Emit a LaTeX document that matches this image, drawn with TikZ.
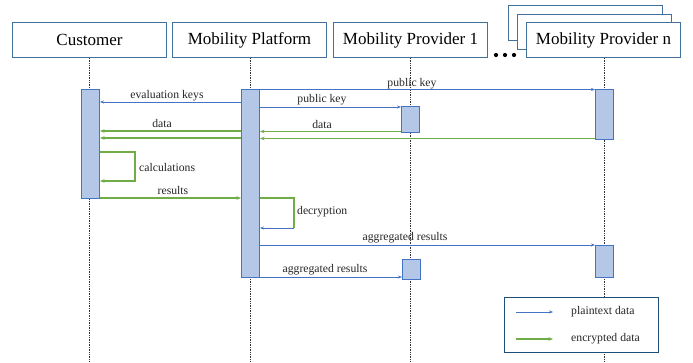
\documentclass[tikz,border=0pt]{standalone}
\usepackage{fontspec}
\setmainfont{Liberation Serif}
\usetikzlibrary{arrows.meta,calc}
\definecolor{hdr}{HTML}{41719C}
\definecolor{bl}{HTML}{4472C4}
\definecolor{barfill}{HTML}{B4C7E7}
\definecolor{gr}{HTML}{70AD47}
\definecolor{lgd}{HTML}{1F4E79}
\tikzset{
  hbox/.style={draw=hdr,line width=1pt,fill=white,minimum width=154pt,minimum height=35pt,inner sep=0pt,anchor=north west,font=\fontsize{17}{17}\selectfont},
  actbar/.style={draw=bl,line width=1pt,fill=barfill,minimum width=18pt,inner sep=0pt,anchor=north west},
  life/.style={densely dotted,line width=0.7pt,black!80},
  plain/.style={draw=bl,line width=0.8pt,-{Stealth[length=4pt,width=3pt]}},
  enc/.style={draw=gr,line width=1.6pt,-{Stealth[length=4.5pt,width=3.5pt]}},
  lbl/.style={font=\fontsize{11.7}{12}\selectfont,inner sep=0pt,text=black!85},
}
\begin{document}
\begin{tikzpicture}[x=1pt,y=-1pt]
\useasboundingbox (0,0) rectangle (693,362);
% header boxes
\node[hbox] (cu) at (12,22) {Customer};
\node[hbox] (mp) at (172,22) {Mobility Platform};
\node[hbox] (p1) at (333,22) {Mobility Provider 1};
\node[hbox] (pnb) at (508,5) {};
\node[hbox] (pnm) at (517,13.5) {};
\node[hbox] (pn) at (526,22) {Mobility Provider n};
\foreach \i/\x in {1/496,2/505,3/514}{\fill (\x,55) circle (2.1pt) coordinate (dot\i);}
% lifelines
\coordinate (cuE) at (89,362);
\coordinate (mpE) at (250,362);
\coordinate (p1E) at (410,362);
\coordinate (pnE) at (604,362);
\draw[life] (cu.south -| cuE) -- (cuE);
\draw[life] (mp.south -| mpE) -- (mpE);
\draw[life] (p1.south -| p1E) -- (p1E);
\draw[life] (pn.south -| pnE) -- (pnE);
% activation bars
\node[actbar,minimum height=109pt] (cb) at (81,89) {};
\node[actbar,minimum height=188pt] (pb) at (241,89) {};
\node[actbar,minimum height=26pt] (ab1) at (401,106) {};
\node[actbar,minimum height=50pt] (nb1) at (595,89) {};
\node[actbar,minimum height=20pt] (ab2) at (402,259) {};
\node[actbar,minimum height=32pt] (nb2) at (595,245) {};
% messages
\draw[plain] (pb.west |- 0,102) -- (cb.east |- 0,102);
\node[lbl] (l1) at (167,96) {evaluation keys};
\draw[plain] (pb.east |- 0,89.5) -- (nb1.west |- 0,89.5);
\node[lbl] (l2) at (412,84) {public key};
\draw[plain] (pb.east |- 0,107) -- (ab1.west |- 0,107);
\node[lbl] (l3) at (322,100) {public key};
\draw[enc] (pb.west |- 0,131) -- (cb.east |- 0,131);
\draw[enc] (pb.west |- 0,138) -- (cb.east |- 0,138);
\node[lbl] (l4) at (162,123) {data};
\draw[enc] (ab1.west |- 0,131.5) -- (pb.east |- 0,131.5);
\draw[enc] (nb1.west |- 0,138.5) -- (pb.east |- 0,138.5);
\node[lbl] (l5) at (322,124) {data};
% calculations self loop
\coordinate (cl) at (135,152);
\draw[enc] (cb.east |- cl) -- (cl) -- (135,181) -- (cb.east |- 0,181);
\node[lbl,anchor=west] (l6) at (139,167) {calculations};
\draw[enc] (cb.east |- 0,198) -- (pb.west |- 0,198);
\node[lbl] (l7) at (173,190.5) {results};
% decryption self loop
\coordinate (dl) at (294,198);
\draw[draw=gr,line width=1.6pt] (pb.east |- dl) -- (dl) -- (294,228);
\draw[plain] (294,228) -- (pb.east |- 0,228);
\node[lbl,anchor=west] (l8) at (297,212) {decryption};
\draw[plain] (pb.east |- 0,245) -- (nb2.west |- 0,245);
\node[lbl] (l9) at (405,238) {aggregated results};
\draw[plain] (pb.east |- 0,277) -- (ab2.west |- 0,277);
\node[lbl] (l10) at (325,270) {aggregated results};
% legend
\node[draw=lgd,line width=1pt,fill=white,minimum width=154pt,minimum height=55pt,anchor=north west,inner sep=0pt] (lg) at (504,297) {};
\coordinate (la1) at (516,312);
\coordinate (la2) at (553,312);
\coordinate (lb1) at (516,339);
\coordinate (lb2) at (553,339);
\draw[plain] (la1) -- (la2);
\draw[enc] (lb1) -- (lb2);
\node[lbl,anchor=west] (lt1) at (571,312) {plaintext data};
\node[lbl,anchor=west] (lt2) at (571,338.5) {encrypted data};
\end{tikzpicture}
\end{document}
